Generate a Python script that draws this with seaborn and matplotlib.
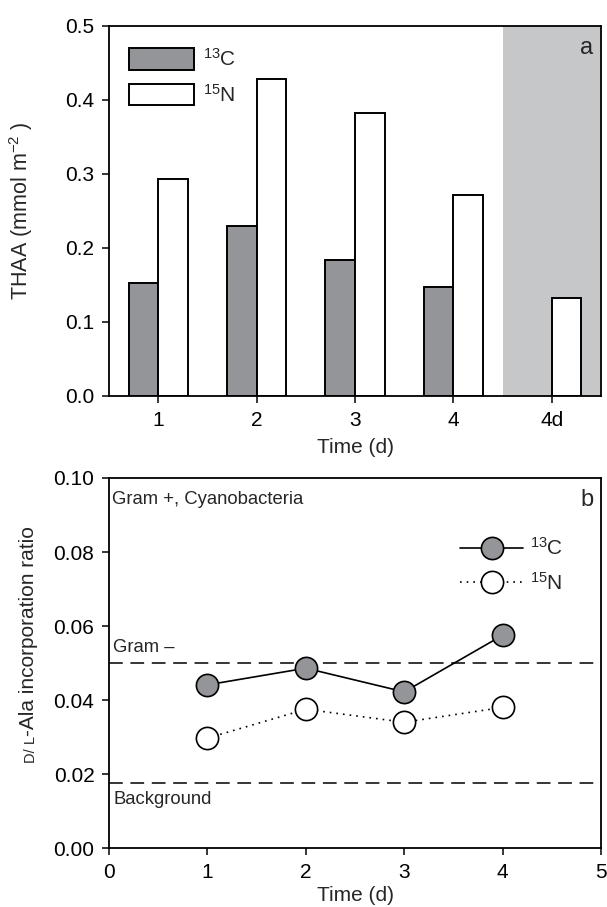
import pandas as pd
import matplotlib.pyplot as plt
import seaborn as sns
from matplotlib.patches import Patch
from matplotlib.lines import Line2D

# Dados - painel a (THAA)
days = ["1", "2", "3", "4", "4d"]
thaa_13c = [0.153, 0.230, 0.184, 0.147, None]
thaa_15n = [0.293, 0.428, 0.382, 0.272, 0.132]

# Dados - painel b (razao D/L-Ala)
time_d = [1, 2, 3, 4]
ratio_13c = [0.0441, 0.0486, 0.0422, 0.0575]
ratio_15n = [0.0297, 0.0375, 0.0340, 0.0380]
gram_neg = 0.050
background = 0.0175

GRAY = "#939598"
SHADE = "#c6c7c9"


def main():
    sns.set_style("ticks")
    plt.rcParams['font.family'] = ['Liberation Sans', 'DejaVu Sans']
    plt.rcParams['mathtext.fontset'] = 'custom'
    plt.rcParams['mathtext.rm'] = 'Liberation Sans'
    plt.rcParams['mathtext.it'] = 'Liberation Sans:italic'
    plt.rcParams['axes.linewidth'] = 1.3
    plt.rcParams['xtick.major.size'] = 5
    plt.rcParams['ytick.major.size'] = 5
    plt.rcParams['xtick.major.width'] = 1.1
    plt.rcParams['ytick.major.width'] = 1.1
    plt.rcParams['xtick.color'] = 'black'
    plt.rcParams['ytick.color'] = 'black'
    plt.rcParams['axes.edgecolor'] = 'black'

    fig = plt.figure(figsize=(6.07, 9.07), dpi=100)
    ax1 = fig.add_axes([0.1796, 0.5634, 0.8105, 0.408])
    ax2 = fig.add_axes([0.1796, 0.065, 0.8105, 0.408])

    # ---- Painel a ----
    rows = []
    for d, c, n in zip(days, thaa_13c, thaa_15n):
        if c is not None:
            rows.append({"day": d, "iso": "13C", "thaa": c})
        rows.append({"day": d, "iso": "15N", "thaa": n})
    df = pd.DataFrame(rows)

    ax1.axvspan(3.5, 4.5, color=SHADE, lw=0, zorder=0)
    sns.barplot(data=df, x="day", y="thaa", hue="iso", order=days,
                hue_order=["13C", "15N"], palette={"13C": GRAY, "15N": "white"},
                saturation=1, width=0.6, edgecolor="black", linewidth=1.4,
                legend=False, ax=ax1, zorder=2)
    ax1.set_xlim(-0.5, 4.5)
    ax1.set_ylim(0, 0.5)
    ax1.set_yticks([0, 0.1, 0.2, 0.3, 0.4, 0.5])
    ax1.set_yticklabels(["0.0", "0.1", "0.2", "0.3", "0.4", "0.5"])
    ax1.set_xticks(range(len(days)))
    ax1.set_xticklabels(days)
    ax1.tick_params(labelsize=15, pad=5.5)
    ax1.set_xlabel("Time (d)", fontsize=15, labelpad=6)
    ax1.set_ylabel(r"THAA (mmol m$^{-2}$ )", fontsize=15.5)
    ax1.yaxis.set_label_coords(-0.15, 0.5)
    ax1.text(0.985, 0.94, "a", transform=ax1.transAxes, ha="right", va="center", fontsize=17)

    handles = [Patch(facecolor=GRAY, edgecolor="black", linewidth=1.4),
               Patch(facecolor="white", edgecolor="black", linewidth=1.4)]
    ax1.legend(handles, [r"$^{13}$C", r"$^{15}$N"], loc="upper left",
               bbox_to_anchor=(0.041, 0.94), frameon=False, fontsize=15,
               handlelength=3.1, handleheight=1.2, handletextpad=0.45,
               labelspacing=0.65, borderpad=0, borderaxespad=0)

    # ---- Painel b ----
    df_b = pd.DataFrame({"time": time_d, "c": ratio_13c, "n": ratio_15n})
    ax2.axhline(gram_neg, color="black", lw=1.1, ls=(0, (9, 5)), zorder=1)
    ax2.axhline(background, color="black", lw=1.1, ls=(0, (9, 5)), zorder=1)
    sns.lineplot(data=df_b, x="time", y="c", color="black", lw=1.2, marker="o",
                 markersize=16, markerfacecolor=GRAY, markeredgecolor="black",
                 markeredgewidth=1.2, ax=ax2, zorder=3)
    sns.lineplot(data=df_b, x="time", y="n", color="black", lw=1.2, ls=(0, (1, 3)),
                 marker="o", markersize=16, markerfacecolor="white",
                 markeredgecolor="black", markeredgewidth=1.2, ax=ax2, zorder=3)
    ax2.set_xlim(0, 5)
    ax2.set_ylim(0, 0.10)
    ax2.set_xticks([0, 1, 2, 3, 4, 5])
    ax2.set_yticks([0, 0.02, 0.04, 0.06, 0.08, 0.10])
    ax2.set_yticklabels(["0.00", "0.02", "0.04", "0.06", "0.08", "0.10"])
    ax2.tick_params(labelsize=15, pad=5.5)
    ax2.set_xlabel("Time (d)", fontsize=15, labelpad=3)
    ylab = ax2.set_ylabel("-Ala incorporation ratio", fontsize=15)
    ax2.yaxis.set_label_coords(-0.145, 0.585)
    ax2.annotate("D/ L", xy=(1, 0), xycoords=ylab, ha="right", va="top",
                 rotation=90, fontsize=10.5)

    ax2.text(0.03, 0.0941, "Gram +, Cyanobacteria", fontsize=13.3, va="center")
    ax2.text(0.04, 0.0541, "Gram \u2013", fontsize=13.3, va="center")
    ax2.text(0.047, 0.0132, "Background", fontsize=13.3, va="center")
    ax2.text(0.985, 0.94, "b", transform=ax2.transAxes, ha="right", va="center", fontsize=17)

    lh = [Line2D([], [], color="black", lw=1.2, marker="o", markersize=16,
                 markerfacecolor=GRAY, markeredgecolor="black", markeredgewidth=1.2),
          Line2D([], [], color="black", lw=1.2, ls=(0, (1, 3)), marker="o", markersize=16,
                 markerfacecolor="white", markeredgecolor="black", markeredgewidth=1.2)]
    ax2.legend(lh, [r"$^{13}$C", r"$^{15}$N"], loc="upper left",
               bbox_to_anchor=(0.714, 0.84), frameon=False, fontsize=15,
               handlelength=3.0, handletextpad=0.35, labelspacing=0.6,
               borderpad=0, borderaxespad=0)

    fig.savefig("out.png", dpi=100)


if __name__ == '__main__':
    main()
